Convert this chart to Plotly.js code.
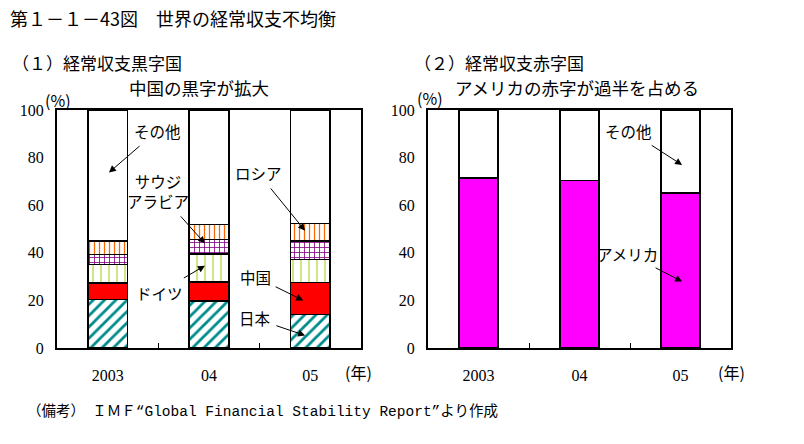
<!DOCTYPE html>
<html><head><meta charset="utf-8">
<script src="https://cdn.plot.ly/plotly-3.0.1.min.js"></script>
<style>html,body{margin:0;padding:0;background:#fff}</style>
</head><body><div id="chart" style="width:804px;height:444px"></div>
<script>
// Categories
const years = ['2003', '04', '05'];
// (1) Surplus countries, share (%)
const japan = [20.4, 19.7, 14.1];
const china = [6.9, 8.0, 13.5];
const germany = [7.8, 11.7, 9.6];
const saudi = [4.2, 6.1, 7.7];
const russia = [5.6, 6.4, 7.5];
const otherSurplus = [55.1, 48.1, 47.6];
// (2) Deficit countries, share (%)
const america = [71.5, 70.4, 65.2];
const otherDeficit = [28.5, 29.6, 34.8];
const yTicks = [0, 20, 40, 60, 80, 100];

const JP = '"Noto Sans CJK JP", sans-serif';
const SERIF = '"Liberation Serif", serif';
const lineSpec = {color: '#000', width: 1.5};

function bar(y, xa, ya, fill, pattern) {
  const m = {color: fill, line: lineSpec};
  if (pattern) m.pattern = Object.assign({bgcolor: '#fff', fillmode: 'replace'}, pattern);
  return {type: 'bar', x: years, y: y, xaxis: xa, yaxis: ya, marker: m,
          hoverinfo: 'skip', showlegend: false};
}

const data = [
  bar(japan, 'x', 'y', '#fff', {shape: '/', fgcolor: '#008B8B', size: 8, solidity: 0.35}),
  bar(china, 'x', 'y', '#FF0000'),
  bar(germany, 'x', 'y', '#fff', {shape: '|', fgcolor: '#99CC00', size: 8, solidity: 0.12}),
  bar(saudi, 'x', 'y', '#fff', {shape: '+', fgcolor: '#800080', size: 5, solidity: 0.3}),
  bar(russia, 'x', 'y', '#fff', {shape: '|', fgcolor: '#FF6600', size: 5, solidity: 0.25}),
  bar(otherSurplus, 'x', 'y', '#fff'),
  bar(america, 'x2', 'y2', '#FF00FF'),
  bar(otherDeficit, 'x2', 'y2', '#fff')
];

function xAxis(domain, anchor) {
  return {domain: domain, anchor: anchor, type: 'category', range: [-0.5, 2.5],
    showline: true, mirror: true, linecolor: '#000', linewidth: 2,
    ticks: 'inside', tickson: 'boundaries', ticklen: 5, tickcolor: '#000',
    ticklabelstandoff: 12, showgrid: false, zeroline: false, fixedrange: true,
    tickfont: {family: SERIF, size: 16, color: '#000'}};
}
function yAxis(anchor) {
  return {domain: [0.2162, 0.7523], anchor: anchor, range: [0, 100],
    tickvals: yTicks, showline: true, mirror: true, linecolor: '#000', linewidth: 2,
    ticks: '', showgrid: false, zeroline: false, fixedrange: true,
    ticklabelstandoff: 8,
    tickfont: {family: SERIF, size: 16, color: '#000'}};
}

function label(text, x, y, ax, ay, xa, ya) {
  return {text: text, x: x, y: y, ax: ax, ay: ay, xref: xa, yref: ya, axref: xa, ayref: ya,
    showarrow: true, arrowhead: 2, arrowsize: 1.4, arrowwidth: 1, arrowcolor: '#000',
    standoff: 0, startstandoff: 4,
    font: {family: JP, size: 15.5, color: '#000'}};
}
function ptext(text, x, y, size, anchor, fam) {
  return {text: text, x: x, y: y, xref: 'paper', yref: 'paper', showarrow: false,
    xanchor: anchor || 'left', yanchor: 'middle',
    font: {family: fam || JP, size: size, color: '#000'}};
}

const annotations = [
  ptext('第１－１－43図　世界の経常収支不均衡', 8 / 804, 1 - 18 / 444, 18),
  ptext('（１）経常収支黒字国', 10 / 804, 1 - 62 / 444, 17),
  ptext('中国の黒字が拡大', 199 / 804, 1 - 88 / 444, 17.5, 'center'),
  ptext('（２）経常収支赤字国', 412 / 804, 1 - 62 / 444, 17),
  ptext('アメリカの赤字が過半を占める', 577 / 804, 1 - 88 / 444, 17.5, 'center'),
  ptext('(%)', 58 / 804, 1 - 100 / 444, 16, 'center'),
  ptext('(%)', 430 / 804, 1 - 98 / 444, 16, 'center'),
  ptext('(年)', 358 / 804, 1 - 372 / 444, 16, 'center'),
  ptext('(年)', 731 / 804, 1 - 372 / 444, 16, 'center'),
  ptext('（備考）　ＩＭＦ“Global Financial Stability Report”より作成', 25 / 804, 1 - 411 / 444, 14.5,
        'left', '"Liberation Mono", "Noto Sans CJK JP", monospace'),
  label('その他', 0.013, 73.7, 0.487, 91.2, 'x', 'y'),
  label('サウジ<br>アラビア', 0.96, 43.9, 0.497, 66, 'x', 'y'),
  label('ドイツ', 0.96, 34.6, 0.507, 23.3, 'x', 'y'),
  label('ロシア', 1.948, 49.3, 1.484, 73.6, 'x', 'y'),
  label('中国', 1.93, 20, 1.454, 30, 'x', 'y'),
  label('日本', 1.948, 5.3, 1.454, 12.4, 'x', 'y'),
  label('その他', 2.016, 76.9, 1.49, 91.3, 'x2', 'y2'),
  label('アメリカ', 2.016, 27.9, 1.48, 39.7, 'x2', 'y2')
];

const layout = {
  width: 804, height: 444, margin: {l: 0, r: 0, t: 0, b: 0},
  paper_bgcolor: '#fff', plot_bgcolor: '#fff',
  barmode: 'stack', bargap: 0.61, showlegend: false,
  font: {family: JP, color: '#000'},
  xaxis: xAxis([57 / 804, 361 / 804], 'y'),
  yaxis: yAxis('x'),
  xaxis2: xAxis([428 / 804, 731 / 804], 'y2'),
  yaxis2: yAxis('x2'),
  annotations: annotations
};

Plotly.newPlot('chart', data, layout, {displayModeBar: false, staticPlot: true});
</script></body></html>
